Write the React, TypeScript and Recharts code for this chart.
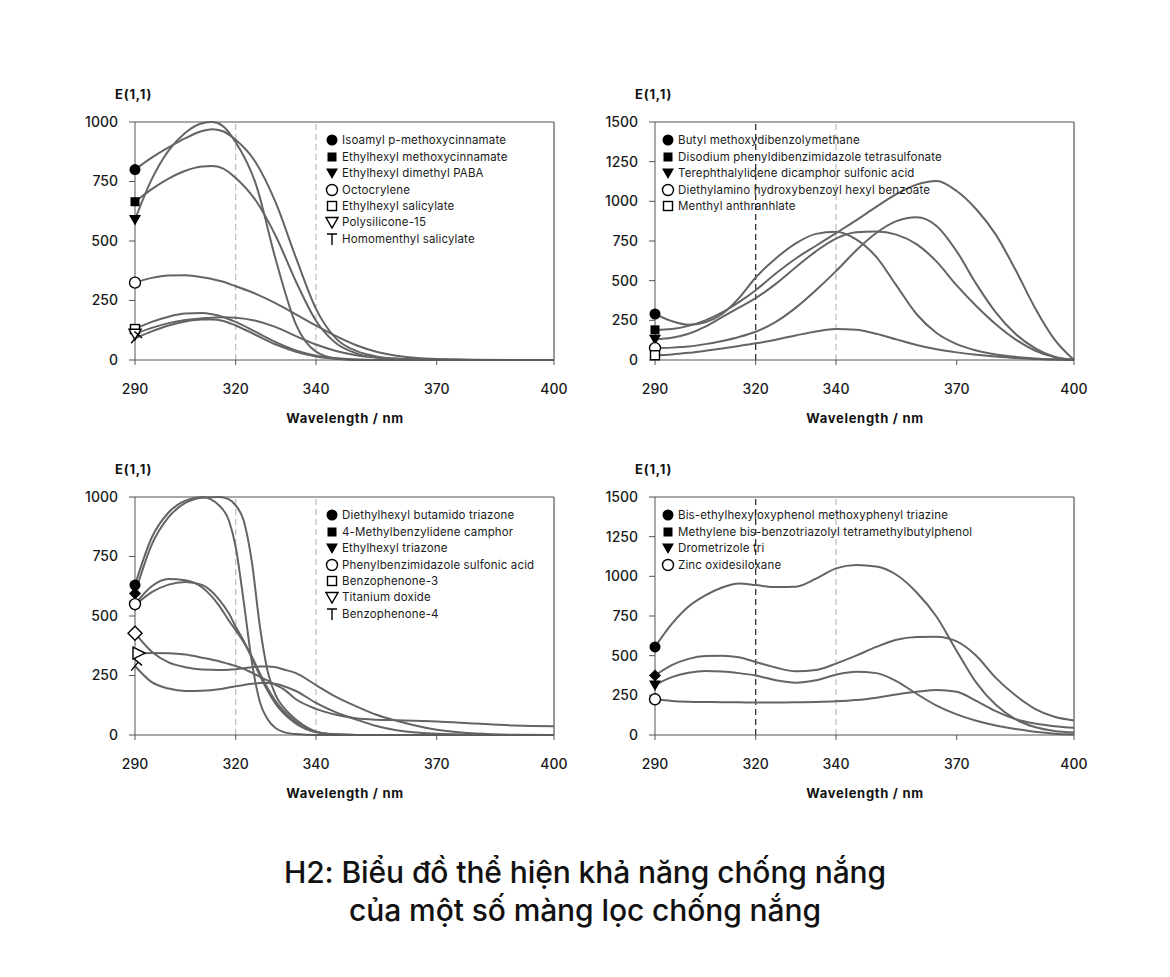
import React from "react";
import { LineChart, Line, XAxis, YAxis, ReferenceLine } from "recharts";

// x axis is not linear in the original, so wavelengths are mapped to axis units piecewise
const WL_TICKS = [290, 320, 340, 370, 400];
const TICK_POS = [0, 100.7, 181, 301.7, 419];

const Y_TICKS_1000 = [0, 250, 500, 750, 1000];
const Y_TICKS_1500 = [0, 250, 500, 750, 1000, 1250, 1500];

// panel 1
const P1_WL = [290, 295, 300, 305, 310, 313, 316, 320, 325, 330, 335, 340, 345, 350, 355, 360, 370, 380, 390, 400];
const P1_NAMES = [
  "Isoamyl p-methoxycinnamate",
  "Ethylhexyl methoxycinnamate",
  "Ethylhexyl dimethyl PABA",
  "Octocrylene",
  "Ethylhexyl salicylate",
  "Polysilicone-15",
  "Homomenthyl salicylate",
];
const P1_ISOAMYL = [800, 850, 893, 932, 962, 970, 962, 925, 830, 660, 430, 215, 90, 38, 15, 6, 1, 0, 0, 0];
const P1_EHMC = [665, 718, 762, 795, 813, 815, 806, 765, 670, 520, 330, 165, 70, 28, 10, 4, 1, 0, 0, 0];
const P1_PABA = [590, 760, 880, 955, 995, 1000, 985, 915, 740, 420, 150, 35, 6, 0, 0, 0, 0, 0, 0, 0];
const P1_OCTO = [325, 345, 355, 356, 348, 340, 330, 310, 278, 238, 192, 145, 100, 62, 35, 18, 4, 1, 0, 0];
const P1_EHS = [130, 160, 182, 195, 197, 192, 182, 160, 118, 75, 40, 18, 7, 2, 0, 0, 0, 0, 0, 0];
const P1_POLY = [110, 135, 155, 168, 175, 178, 180, 178, 165, 138, 100, 65, 38, 20, 10, 5, 1, 0, 0, 0];
const P1_HMS = [90, 120, 145, 162, 170, 170, 165, 145, 105, 65, 35, 15, 5, 1, 0, 0, 0, 0, 0, 0];

// panel 2
const P2_WL = [290, 295, 300, 305, 310, 315, 320, 325, 330, 335, 340, 345, 350, 355, 360, 365, 370, 375, 380, 385, 390, 395, 400];
const P2_NAMES = [
  "Butyl methoxydibenzolymethane",
  "Disodium phenyldibenzimidazole tetrasulfonate",
  "Terephthalylidene dicamphor sulfonic acid",
  "Diethylamino hydroxybenzoyl hexyl benzoate",
  "Menthyl anthranhlate",
];
const P2_BUTYL = [290, 245, 222, 238, 290, 390, 520, 640, 735, 795, 808, 760, 650, 470, 290, 170, 100, 60, 35, 20, 10, 4, 0];
const P2_DISODIUM = [190, 195, 215, 250, 300, 365, 440, 545, 640, 720, 800, 880, 965, 1045, 1105, 1128, 1065, 950, 790, 570, 330, 130, 0];
const P2_TEREPH = [130, 140, 165, 210, 270, 330, 390, 480, 585, 685, 765, 805, 810, 790, 730, 620, 470, 340, 225, 130, 60, 18, 0];
const P2_DHHB = [75, 78, 85, 100, 120, 145, 178, 240, 330, 440, 560, 690, 800, 875, 900, 845, 685, 480, 300, 165, 75, 20, 0];
const P2_MENTHYL = [30, 35, 45, 58, 72, 88, 105, 128, 155, 180, 195, 190, 165, 130, 95, 68, 48, 33, 22, 13, 7, 3, 0];

// panel 3
const P3_WL = [290, 295, 300, 305, 310, 315, 318, 320, 322, 324, 326, 328, 330, 332, 335, 340, 345, 350, 355, 360, 370, 380, 390, 400];
const P3_NAMES = [
  "Diethylhexyl butamido triazone",
  "4-Methylbenzylidene camphor",
  "Ethylhexyl triazone",
  "Phenylbenzimidazole sulfonic acid",
  "Benzophenone-3",
  "Titanium doxide",
  "Benzophenone-4",
];
const P3_DBT = [630, 830, 935, 985, 1000, 965, 900, 790, 560, 310, 140, 65, 28, 12, 4, 0, 0, 0, 0, 0, 0, 0, 0, 0];
const P3_MBC = [595, 800, 915, 975, 997, 1000, 990, 965, 900, 730, 460, 265, 165, 115, 65, 15, 2, 0, 0, 0, 0, 0, 0, 0];
const P3_EHT = [545, 600, 632, 643, 630, 570, 510, 455, 395, 325, 250, 185, 130, 90, 48, 12, 3, 0, 0, 0, 0, 0, 0, 0];
const P3_PBSA = [550, 625, 655, 650, 620, 545, 480, 440, 390, 330, 260, 195, 140, 100, 55, 12, 2, 0, 0, 0, 0, 0, 0, 0];
const P3_BP3 = [428, 350, 305, 285, 275, 273, 274, 276, 280, 285, 288, 288, 285, 275, 260, 210, 160, 120, 85, 60, 22, 6, 1, 0];
const P3_TIO2 = [340, 345, 344, 338, 325, 310, 298, 290, 278, 262, 245, 228, 210, 192, 150, 110, 85, 70, 64, 62, 57, 48, 40, 37];
const P3_BP4 = [290, 222, 195, 185, 186, 192, 200, 205, 210, 215, 218, 218, 214, 205, 185, 135, 95, 65, 38, 20, 5, 1, 0, 0];

// panel 4
const P4_WL = [290, 295, 300, 305, 310, 315, 320, 325, 330, 335, 340, 345, 350, 355, 360, 365, 370, 375, 380, 385, 390, 395, 400];
const P4_NAMES = [
  "Bis-ethylhexyloxyphenol methoxyphenyl triazine",
  "Methylene bis-benzotriazolyl tetramethylbutylphenol",
  "Drometrizole tri",
  "Zinc oxidesiloxane",
];
const P4_BEMT = [555, 700, 810, 880, 930, 955, 945, 932, 935, 985, 1050, 1072, 1062, 1010, 900, 745, 530, 330, 190, 100, 50, 25, 15];
const P4_MBBT = [375, 440, 480, 498, 500, 490, 460, 425, 402, 410, 450, 500, 555, 600, 618, 620, 590, 500, 360, 250, 165, 115, 92];
const P4_DTS = [315, 365, 392, 403, 400, 390, 375, 345, 330, 345, 380, 398, 390, 340, 260, 185, 130, 90, 60, 38, 20, 8, 3];
const P4_ZNO = [225, 215, 210, 208, 207, 206, 205, 205, 206, 208, 212, 220, 235, 255, 272, 284, 272, 215, 150, 100, 72, 55, 45];

const LINE_COLOR = "#646464";
const AXIS_COLOR = "#555";
const FONT = "Inter, 'Noto Sans', sans-serif";

function pos(wl: number) {
  for (let i = 1; i < WL_TICKS.length; i++) {
    if (wl <= WL_TICKS[i]) {
      const t = (wl - WL_TICKS[i - 1]) / (WL_TICKS[i] - WL_TICKS[i - 1]);
      return TICK_POS[i - 1] + t * (TICK_POS[i] - TICK_POS[i - 1]);
    }
  }
  return TICK_POS[TICK_POS.length - 1];
}

function tickLabel(v: number) {
  const i = TICK_POS.findIndex((p) => Math.abs(p - v) < 0.01);
  return i >= 0 ? String(WL_TICKS[i]) : "";
}

function Marker({ kind, x, y }: { kind: string; x: number; y: number }) {
  const sw = 1.4;
  switch (kind) {
    case "circle":
      return <circle cx={x} cy={y} r={5.5} fill="#000" />;
    case "openCircle":
      return <circle cx={x} cy={y} r={5.5} fill="#fff" stroke="#000" strokeWidth={sw} />;
    case "square":
      return <rect x={x - 4.5} y={y - 4.5} width={9} height={9} fill="#000" />;
    case "openSquare":
      return <rect x={x - 4.5} y={y - 4.5} width={9} height={9} fill="#fff" stroke="#000" strokeWidth={sw} />;
    case "triDown":
      return <path d={`M${x - 6},${y - 4.5} L${x + 6},${y - 4.5} L${x},${y + 6} Z`} fill="#000" />;
    case "openTriDown":
      return <path d={`M${x - 6},${y - 4.5} L${x + 6},${y - 4.5} L${x},${y + 6} Z`} fill="#fff" stroke="#000" strokeWidth={sw} />;
    case "openTriRight":
      return <path d={`M${x - 2},${y - 7} L${x + 10},${y - 1} L${x - 2},${y + 5} Z`} fill="#fff" stroke="#000" strokeWidth={sw} />;
    case "diamond":
      return <path d={`M${x},${y - 6} L${x + 6},${y} L${x},${y + 6} L${x - 6},${y} Z`} fill="#000" />;
    case "openDiamond":
      return <path d={`M${x},${y - 7} L${x + 7},${y} L${x},${y + 7} L${x - 7},${y} Z`} fill="#fff" stroke="#000" strokeWidth={sw} />;
    case "tee":
      return <path d={`M${x - 5},${y - 5} L${x + 5},${y - 5} M${x},${y - 5} L${x},${y + 6}`} stroke="#000" strokeWidth={sw} fill="none" />;
    case "teeRot":
      return (
        <path
          d={`M${x - 5},${y - 5} L${x + 5},${y - 5} M${x},${y - 5} L${x},${y + 6}`}
          stroke="#000"
          strokeWidth={sw}
          fill="none"
          transform={`rotate(40 ${x} ${y})`}
        />
      );
    default:
      return <g />;
  }
}

type Series = { name: string; values: number[]; marker: string; legend: string };

function Panel({
  left,
  top,
  wl,
  series,
  yMax,
  yTicks,
  dark320,
  legendLeft,
}: {
  left: number;
  top: number;
  wl: number[];
  series: Series[];
  yMax: number;
  yTicks: number[];
  dark320: boolean;
  legendLeft: number;
}) {
  const data = wl.map((w, i) => {
    const row: Record<string, number> = { x: pos(w) };
    series.forEach((s, k) => (row["s" + k] = s.values[i]));
    return row;
  });
  const tickStyle = { fill: "#1a1a1a", fontSize: 14, fontFamily: FONT, fontWeight: 500 };

  return (
    <>
      <div
        style={{ position: "absolute", left: left - 20, top: top - 36, fontSize: 13, fontWeight: 700, letterSpacing: 0.8, color: "#111" }}
      >
        E(1,1)
      </div>
      <div style={{ position: "absolute", left: left - 60, top: top - 10 }}>
        <LineChart width={509} height={292} data={data} margin={{ top: 10, right: 30, left: 0, bottom: 0 }}>
          <ReferenceLine x={pos(320)} stroke={dark320 ? "#222" : "#bbb"} strokeDasharray="6 4" strokeWidth={1.2} />
          <ReferenceLine x={pos(340)} stroke="#bbb" strokeDasharray="6 4" strokeWidth={1.2} />
          <ReferenceLine y={yMax} stroke={AXIS_COLOR} strokeWidth={1.2} />
          <ReferenceLine x={419} stroke={AXIS_COLOR} strokeWidth={1.2} />
          <XAxis
            type="number"
            dataKey="x"
            domain={[0, 419]}
            ticks={TICK_POS}
            interval={0}
            tickFormatter={tickLabel}
            tickSize={5}
            tickMargin={19}
            height={44}
            stroke={AXIS_COLOR}
            tick={tickStyle}
          />
          <YAxis
            type="number"
            domain={[0, yMax]}
            ticks={yTicks}
            interval={0}
            width={60}
            tickSize={6}
            tickMargin={11}
            stroke={AXIS_COLOR}
            tick={tickStyle}
          />
          {series.map((s, k) => (
            <Line
              key={s.name}
              dataKey={"s" + k}
              type="monotone"
              stroke={LINE_COLOR}
              strokeWidth={2}
              isAnimationActive={false}
              dot={(p: any) =>
                p.index === 0 ? (
                  <Marker key={"m" + k} kind={s.marker} x={p.cx} y={p.cy} />
                ) : (
                  <g key={"e" + k + "-" + p.index} />
                )
              }
              activeDot={false}
            />
          ))}
        </LineChart>
      </div>
      <div
        style={{
          position: "absolute",
          left: left + 140,
          top: top + 288,
          fontSize: 13,
          fontWeight: 700,
          letterSpacing: 0.7,
          color: "#111",
          width: 140,
          textAlign: "center",
        }}
      >
        Wavelength / nm
      </div>
      <div style={{ position: "absolute", left: legendLeft, top: top + 10 }}>
        {series.map((s) => (
          <div
            key={s.name}
            style={{ display: "flex", alignItems: "center", height: 16.45, fontSize: 11.5, letterSpacing: 0.15, color: "#1a1a1a" }}
          >
            <svg width={14} height={14} style={{ marginRight: 3 }}>
              <Marker kind={s.legend} x={7} y={7} />
            </svg>
            <span style={{ whiteSpace: "nowrap" }}>{s.name}</span>
          </div>
        ))}
      </div>
    </>
  );
}

const P1_SERIES: Series[] = [
  { name: P1_NAMES[0], values: P1_ISOAMYL, marker: "circle", legend: "circle" },
  { name: P1_NAMES[1], values: P1_EHMC, marker: "square", legend: "square" },
  { name: P1_NAMES[2], values: P1_PABA, marker: "triDown", legend: "triDown" },
  { name: P1_NAMES[3], values: P1_OCTO, marker: "openCircle", legend: "openCircle" },
  { name: P1_NAMES[4], values: P1_EHS, marker: "openSquare", legend: "openSquare" },
  { name: P1_NAMES[5], values: P1_POLY, marker: "openTriDown", legend: "openTriDown" },
  { name: P1_NAMES[6], values: P1_HMS, marker: "teeRot", legend: "tee" },
];

const P2_SERIES: Series[] = [
  { name: P2_NAMES[0], values: P2_BUTYL, marker: "circle", legend: "circle" },
  { name: P2_NAMES[1], values: P2_DISODIUM, marker: "square", legend: "square" },
  { name: P2_NAMES[2], values: P2_TEREPH, marker: "triDown", legend: "triDown" },
  { name: P2_NAMES[3], values: P2_DHHB, marker: "openCircle", legend: "openCircle" },
  { name: P2_NAMES[4], values: P2_MENTHYL, marker: "openSquare", legend: "openSquare" },
];

const P3_SERIES: Series[] = [
  { name: P3_NAMES[0], values: P3_DBT, marker: "circle", legend: "circle" },
  { name: P3_NAMES[1], values: P3_MBC, marker: "diamond", legend: "square" },
  { name: P3_NAMES[2], values: P3_EHT, marker: "triDown", legend: "triDown" },
  { name: P3_NAMES[3], values: P3_PBSA, marker: "openCircle", legend: "openCircle" },
  { name: P3_NAMES[4], values: P3_BP3, marker: "openDiamond", legend: "openSquare" },
  { name: P3_NAMES[5], values: P3_TIO2, marker: "openTriRight", legend: "openTriDown" },
  { name: P3_NAMES[6], values: P3_BP4, marker: "teeRot", legend: "tee" },
];

const P4_SERIES: Series[] = [
  { name: P4_NAMES[0], values: P4_BEMT, marker: "circle", legend: "circle" },
  { name: P4_NAMES[1], values: P4_MBBT, marker: "diamond", legend: "square" },
  { name: P4_NAMES[2], values: P4_DTS, marker: "triDown", legend: "triDown" },
  { name: P4_NAMES[3], values: P4_ZNO, marker: "openCircle", legend: "openCircle" },
];

export default function App() {
  return (
    <div
      style={{
        position: "absolute",
        left: 0,
        top: 0,
        width: 1170,
        height: 977,
        background: "#fff",
        fontFamily: FONT,
        overflow: "hidden",
      }}
    >
      <Panel left={135} top={122} wl={P1_WL} series={P1_SERIES} yMax={1000} yTicks={Y_TICKS_1000} dark320={false} legendLeft={325} />
      <Panel left={655} top={122} wl={P2_WL} series={P2_SERIES} yMax={1500} yTicks={Y_TICKS_1500} dark320={true} legendLeft={661} />
      <Panel left={135} top={497} wl={P3_WL} series={P3_SERIES} yMax={1000} yTicks={Y_TICKS_1000} dark320={false} legendLeft={325} />
      <Panel left={655} top={497} wl={P4_WL} series={P4_SERIES} yMax={1500} yTicks={Y_TICKS_1500} dark320={true} legendLeft={661} />
      <div
        style={{
          position: "absolute",
          left: 0,
          top: 853,
          width: 1170,
          textAlign: "center",
          fontSize: 30,
          lineHeight: "38px",
          fontWeight: 500,
          color: "#111",
          letterSpacing: -0.1,
        }}
      >
        H2: Biểu đồ thể hiện khả năng chống nắng
        <br />
        của một số màng lọc chống nắng
      </div>
    </div>
  );
}
